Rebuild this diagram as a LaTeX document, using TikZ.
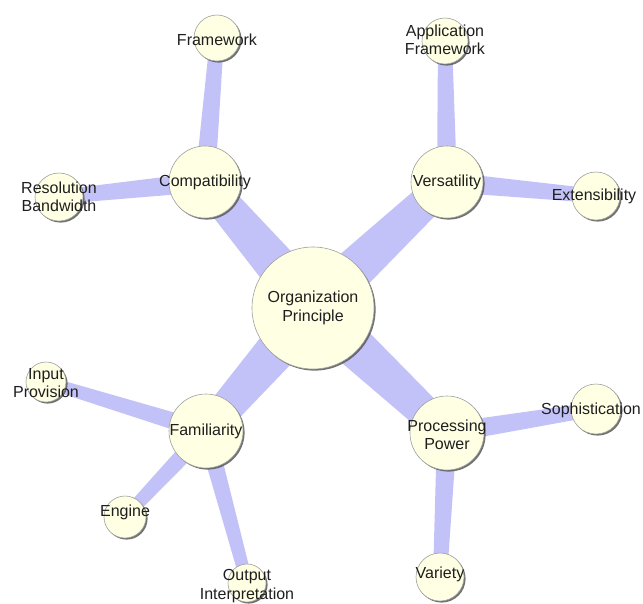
\documentclass[tikz,border=0pt]{standalone}
\usepackage{fontspec}
\setmainfont{Liberation Sans}
\usetikzlibrary{calc,shadows}
\pgfdeclarelayer{background}
\pgfsetlayers{background,main}
\definecolor{cream}{RGB}{255,255,228}
\definecolor{edgecol}{RGB}{194,194,248}
\definecolor{txt}{RGB}{30,30,30}
\newcommand\tedge[4]{%
  \fill[edgecol] ($(#1.center)!#3!90:(#2.center)$) -- ($(#2.center)!#4!-90:(#1.center)$) -- ($(#2.center)!#4!90:(#1.center)$) -- ($(#1.center)!#3!-90:(#2.center)$) -- cycle;}
\tikzset{
  bubble/.style={circle, fill=cream, draw=gray!75, line width=0.6pt, inner sep=0pt, minimum size=#1,
    drop shadow={shadow xshift=1.6pt, shadow yshift=-1.6pt, fill=black!65, opacity=0.85}},
  lbl/.style={text=txt, align=center, inner sep=0pt, font=\fontsize{16pt}{18.5pt}\selectfont}
}
\begin{document}
\begin{tikzpicture}[x=1pt,y=-1pt]
\useasboundingbox (0,0) rectangle (643,603);
% circles
\node[bubble=122pt] (op) at (313,308) {};
\node[bubble=72pt] (comp) at (205,182) {};
\node[bubble=72pt] (vers) at (447,182) {};
\node[bubble=74pt] (fam) at (206,431) {};
\node[bubble=74pt] (proc) at (447,433) {};
\node[bubble=46pt] (frame) at (217,38) {};
\node[bubble=46pt] (appf) at (445,41) {};
\node[bubble=48pt] (resb) at (59,197) {};
\node[bubble=48pt] (ext) at (596,196) {};
\node[bubble=40pt] (inp) at (46,382) {};
\node[bubble=42pt] (eng) at (125,517) {};
\node[bubble=38pt] (outp) at (247,583) {};
\node[bubble=50pt] (soph) at (596,409) {};
\node[bubble=48pt] (var) at (440,577) {};
% edges
\begin{pgfonlayer}{background}
\tedge{op}{comp}{23pt}{15pt}
\tedge{op}{vers}{23pt}{15pt}
\tedge{op}{fam}{23pt}{15pt}
\tedge{op}{proc}{23pt}{15pt}
\tedge{comp}{frame}{10pt}{7pt}
\tedge{comp}{resb}{10pt}{7pt}
\tedge{vers}{appf}{10pt}{7pt}
\tedge{vers}{ext}{10pt}{7pt}
\tedge{fam}{inp}{9pt}{6pt}
\tedge{fam}{eng}{9pt}{6pt}
\tedge{fam}{outp}{9pt}{6pt}
\tedge{proc}{soph}{10pt}{7pt}
\tedge{proc}{var}{10pt}{7pt}
\end{pgfonlayer}
% labels
\node[lbl] (t-op) at (op.center) {Organization\\Principle};
\node[lbl] (t-comp) at (comp.center) {Compatibility};
\node[lbl] (t-vers) at (vers.center) {Versatility};
\node[lbl] (t-fam) at (fam.center) {Familiarity};
\node[lbl] (t-proc) at ([yshift=-2pt]proc.center) {Processing\\Power};
\node[lbl] (t-frame) at ([yshift=-2pt]frame.center) {Framework};
\node[lbl] (t-appf) at ([yshift=1pt]appf.center) {Application\\Framework};
\node[lbl] (t-resb) at (resb.center) {Resolution\\Bandwidth};
\node[lbl] (t-ext) at ([xshift=-2pt]ext.center) {Extensibility};
\node[lbl] (t-inp) at ([yshift=-1pt]inp.center) {Input\\Provision};
\node[lbl] (t-eng) at ([yshift=5pt]eng.center) {Engine};
\node[lbl] (t-outp) at ([yshift=-3pt]outp.center) {Output\\Interpretation};
\node[lbl] (t-soph) at ([xshift=-5pt,yshift=-1pt]soph.center) {Sophistication};
\node[lbl] (t-var) at ([yshift=3pt]var.center) {Variety};
\end{tikzpicture}
\end{document}
